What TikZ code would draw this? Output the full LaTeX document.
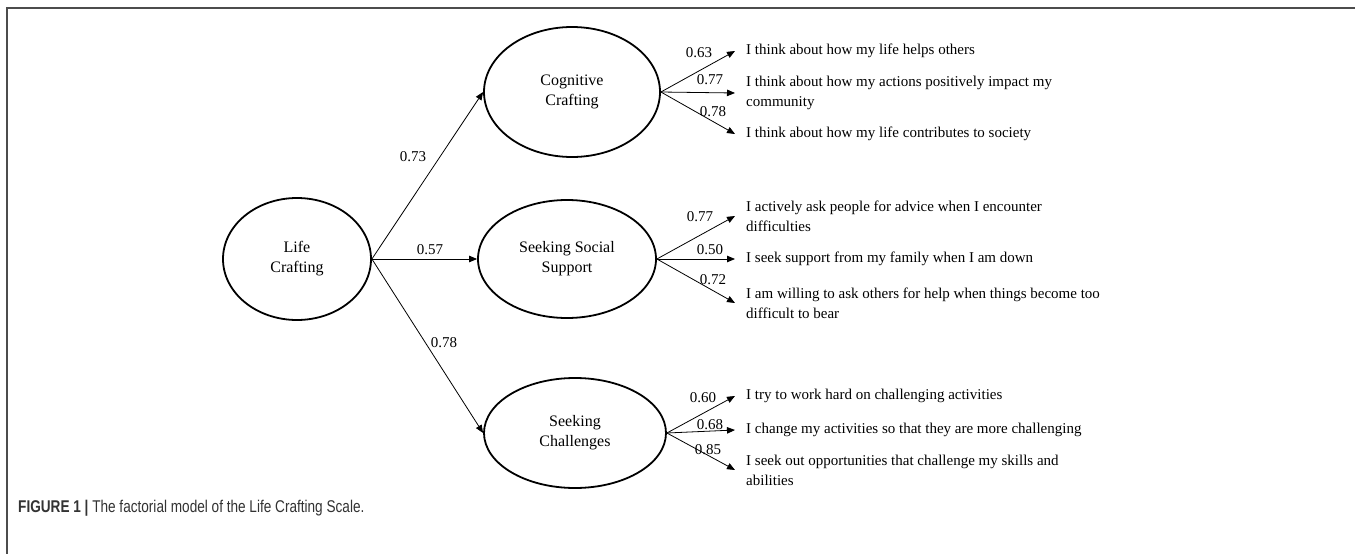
\documentclass[tikz,border=0pt]{standalone}
\usepackage{fontspec}
\setmainfont{Liberation Serif}
\newfontfamily\capfont{Liberation Sans}
\usetikzlibrary{shapes.geometric,arrows.meta}
\begin{document}
\begin{tikzpicture}[x=1pt,y=-1pt,
  latent/.style={ellipse,draw,line width=1.8pt,inner sep=0pt,align=center,font=\fontsize{16}{20}\selectfont},
  item/.style={anchor=west,inner xsep=11pt,inner ysep=0pt,align=left,font=\fontsize{15}{20}\selectfont},
  conn/.style={line width=0.8pt,-{Triangle[length=8pt,width=6.5pt]}},
  load/.style={font=\fontsize{15}{18}\selectfont,inner sep=0pt}]
\fill[white] (0,0) rectangle (1355,554);
\useasboundingbox (0,0) rectangle (1355,554);
\draw[line width=1.5pt,color=black!70] (7,554) -- (7,8) -- (1355,8);

\node[latent,minimum width=148pt,minimum height=122pt] (lc) at (297,259) {Life\\Crafting};
\node[latent,minimum width=176pt,minimum height=130pt] (cc) at (572,92) {Cognitive\\Crafting};
\node[latent,minimum width=178pt,minimum height=118pt] (ss) at (567,259) {Seeking Social\\Support};
\node[latent,minimum width=182pt,minimum height=110pt] (sc) at (575,433) {Seeking\\Challenges};

\node[item] (c1) at (735,51) {I think about how my life helps others};
\node[item] (c2) at (735,93) {I think about how my actions positively impact my\\community};
\node[item] (c3) at (735,134) {I think about how my life contributes to society};
\node[item] (s1) at (735,216) {I actively ask people for advice when I encounter\\difficulties};
\node[item] (s2) at (735,259) {I seek support from my family when I am down};
\node[item] (s3) at (735,303) {I am willing to ask others for help when things become too\\difficult to bear};
\node[item] (h1) at (735,396) {I try to work hard on challenging activities};
\node[item] (h2) at (735,430) {I change my activities so that they are more challenging};
\node[item] (h3) at (735,470) {I seek out opportunities that challenge my skills and\\abilities};

\draw[conn] (lc.east) -- (cc.west);
\draw[conn] (lc.east) -- (ss.west);
\draw[conn] (lc.east) -- (sc.west);
\foreach \i in {c1,c2,c3} \draw[conn] (cc.east) -- (\i.west);
\foreach \i in {s1,s2,s3} \draw[conn] (ss.east) -- (\i.west);
\foreach \i in {h1,h2,h3} \draw[conn] (sc.east) -- (\i.west);

\node[load] (l1) at (413,157) {0.73};
\node[load] (l2) at (430,250) {0.57};
\node[load] (l3) at (444,343) {0.78};
\node[load] (lc1) at (699,53) {0.63};
\node[load] (lc2) at (710,80) {0.77};
\node[load] (lc3) at (713,112) {0.78};
\node[load] (ls1) at (700,217) {0.77};
\node[load] (ls2) at (710,250) {0.50};
\node[load] (ls3) at (713,280) {0.72};
\node[load] (lh1) at (703,398) {0.60};
\node[load] (lh2) at (710,425) {0.68};
\node[load] (lh3) at (708,450) {0.85};

\node[anchor=west,inner sep=0pt,text=black!80] (cap) at (18,508) {\scalebox{0.8}[1]{\capfont\fontsize{17}{20}\selectfont\textbf{FIGURE 1 |} The factorial model of the Life Crafting Scale.}};
\end{tikzpicture}
\end{document}
